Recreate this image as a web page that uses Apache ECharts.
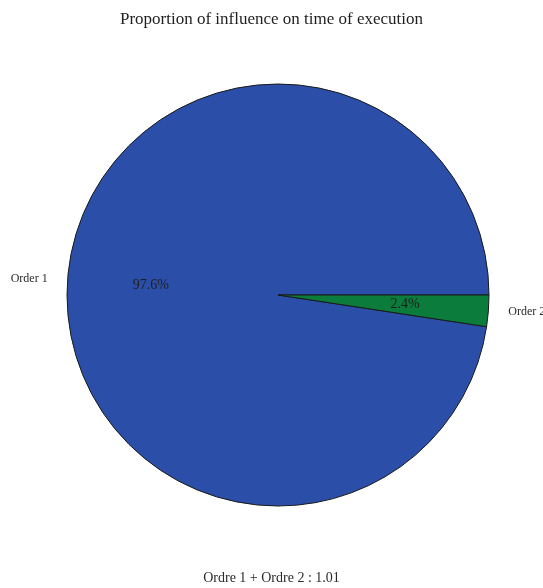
<!DOCTYPE html>
<html>
<head>
<meta charset="utf-8">
<script src="https://cdn.jsdelivr.net/npm/echarts@6/dist/echarts.min.js"></script>
<style>
html,body{margin:0;padding:0;background:#fff;}
#chart{width:543px;height:588px;}
</style>
</head>
<body>
<div id="chart"></div>
<script>
const categories = ['Order 1', 'Order 2'];
const values = [97.6, 2.4];
const titleText = 'Proportion of influence on time of execution';
const footnoteText = 'Ordre 1 + Ordre 2 : 1.01';

const sliceColors = ['#2b4fa9', '#0b7c3c'];
const pieData = categories.map((c, i) => ({ name: c, value: values[i], itemStyle: { color: sliceColors[i] } }));
const serif = '"Liberation Serif", "DejaVu Serif", serif';
const R = 211;
const C = [278, 295];

const chart = echarts.init(document.getElementById('chart'), null, { renderer: 'canvas' });
chart.setOption({
  backgroundColor: '#ffffff',
  animation: false,
  title: [
    { text: titleText, left: 'center', top: 6,
      textStyle: { fontFamily: serif, fontSize: 17, fontWeight: 'normal', color: '#1e1e1e' } },
    { text: footnoteText, left: 'center', top: 566,
      textStyle: { fontFamily: serif, fontSize: 14, fontWeight: 'normal', color: '#2a2a2a' } }
  ],
  series: [
    {
      type: 'pie',
      center: C,
      radius: [0, R],
      clockwise: false,
      startAngle: 0,
      silent: true,
      data: pieData,
      itemStyle: { borderColor: '#1a1a1a', borderWidth: 1 },
      label: {
        show: true,
        position: 'outside',
        formatter: '{b}',
        fontFamily: serif,
        fontSize: 12,
        color: '#2a2a2a',
        overflow: 'none'
      },
      labelLine: { show: false, length: 10, length2: 5 },
      emphasis: { disabled: true }
    },
    {
      type: 'pie',
      center: C,
      radius: [R * 0.18, R],
      clockwise: false,
      startAngle: 0,
      silent: true,
      data: categories.map((c, i) => ({ name: c, value: values[i] })),
      itemStyle: { color: 'rgba(0,0,0,0)', borderWidth: 0 },
      label: {
        show: true,
        position: 'inside',
        formatter: p => p.value.toFixed(1) + '%',
        fontFamily: serif,
        fontSize: 14,
        color: '#1e1e1e'
      },
      labelLine: { show: false },
      emphasis: { disabled: true }
    }
  ]
});
</script>
</body>
</html>
